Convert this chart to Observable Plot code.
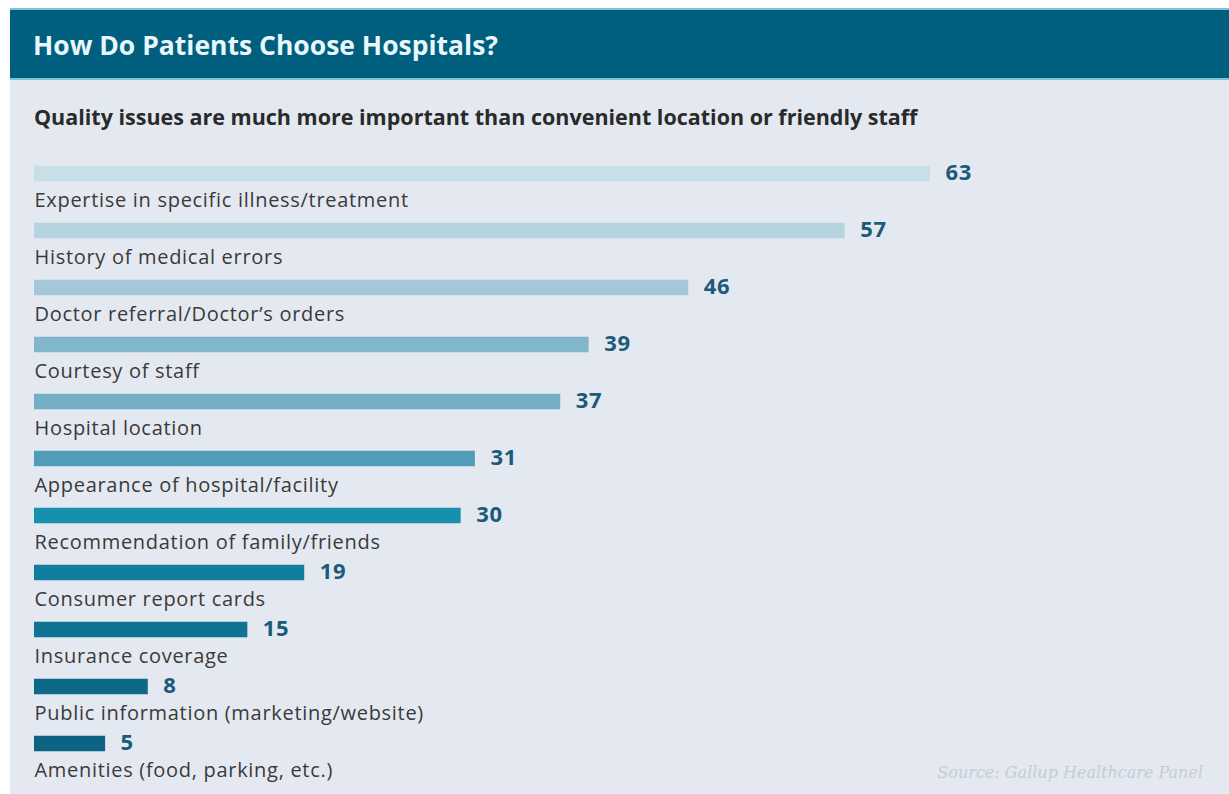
<!DOCTYPE html>
<html>
<head>
<meta charset="utf-8">
<script src="https://cdn.jsdelivr.net/npm/d3@7"></script>
<script src="https://cdn.jsdelivr.net/npm/@observablehq/plot@0.6"></script>
<style>
  html, body { margin: 0; padding: 0; background: #ffffff; width: 1229px; height: 794px; overflow: hidden; }
  #wrap { position: absolute; left: 10px; top: 8px; width: 1219px; height: 786px; background: #e4e9f1; }
  #title { height: 72px; background: #005f7f; border-top: 2px solid #7fc3d6; border-bottom: 2px solid #7fc3d6; box-sizing: border-box;
    color: #e9f7fb; font-family: "Open Sans", "Noto Sans", sans-serif; font-weight: 700; font-size: 26.5px; line-height: 70px; padding-left: 23px; }
  #subtitle { position: absolute; top: 94px; left: 24px; color: #2a2a2a; font-family: "Open Sans", "Noto Sans", sans-serif; font-weight: 700; font-size: 21.5px; white-space: nowrap; }
  #chart { position: absolute; top: 132px; left: 0; }
  #chart svg text { letter-spacing: 0.7px; }
  #source { position: absolute; right: 26px; bottom: 12px; font-family: "DejaVu Serif", "Liberation Serif", serif; font-style: italic; font-size: 16px; color: #c5ccd6; }
</style>
</head>
<body>
<div id="wrap">
  <div id="title">How Do Patients Choose Hospitals?</div>
  <div id="subtitle">Quality issues are much more important than convenient location or friendly staff</div>
  <div id="chart"></div>
  <div id="source">Source: Gallup Healthcare Panel</div>
</div>
<script>
const categories = [
  "Expertise in specific illness/treatment",
  "History of medical errors",
  "Doctor referral/Doctor\u2019s orders",
  "Courtesy of staff",
  "Hospital location",
  "Appearance of hospital/facility",
  "Recommendation of family/friends",
  "Consumer report cards",
  "Insurance coverage",
  "Public information (marketing/website)",
  "Amenities (food, parking, etc.)"
];
const values = [63, 57, 46, 39, 37, 31, 30, 19, 15, 8, 5];
const barColors = ["#c8dfe8", "#b6d4e0", "#a4c8d7", "#82b6cb", "#74aec5", "#4f9db9", "#1690ad", "#117e9f", "#0f7393", "#0e6888", "#0d6382"];

const data = categories.map((c, i) => ({category: c, value: values[i], color: barColors[i]}));

const W = 1219, H = 654;
const chart = Plot.plot({
  width: W,
  height: H,
  marginLeft: 24,
  marginRight: 299,
  marginTop: 2.25,
  marginBottom: 19.25,
  style: {background: "transparent", fontFamily: "'Open Sans', 'Noto Sans', sans-serif", overflow: "visible"},
  x: {domain: [0, 63], axis: null},
  y: {domain: categories, axis: null, padding: 0},
  marks: [
    Plot.barX(data, {x: "value", y: "category", fill: "color", insetTop: 20.75, insetBottom: 20.75}),
    Plot.text(data, {x: "value", y: "category", text: d => String(d.value), dx: 15, dy: -1, textAnchor: "start",
      fill: "#1b5a78", fontWeight: 700, fontSize: 22}),
    Plot.text(data, {x: 0, y: "category", text: "category", dy: 27, textAnchor: "start",
      fill: "#3a3a3a", fontSize: 20})
  ]
});
document.getElementById("chart").appendChild(chart);
</script>
</body>
</html>
